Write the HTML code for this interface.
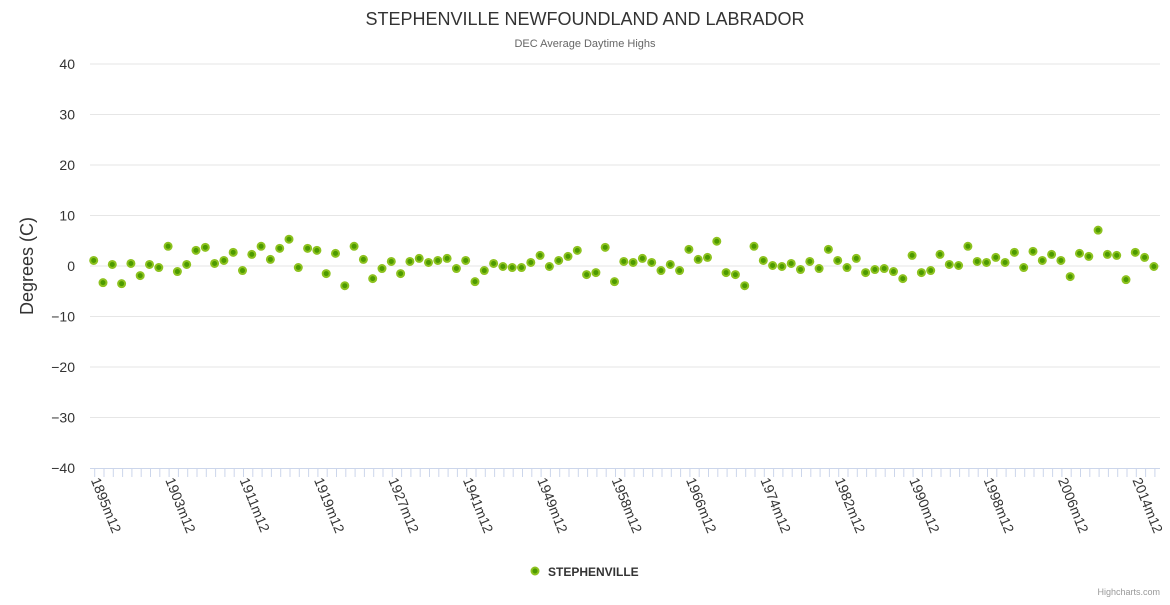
<!DOCTYPE html>
<html><head><meta charset="utf-8"><style>
body{margin:0;background:#fff;width:1170px;height:600px;overflow:hidden;font-family:"Liberation Sans",sans-serif}
</style></head><body>
<svg id="chart" width="1170" height="600" xmlns="http://www.w3.org/2000/svg" style="font-family:'Liberation Sans',sans-serif">
<text x="585" y="25" text-anchor="middle" font-size="18" fill="#333">STEPHENVILLE NEWFOUNDLAND AND LABRADOR</text>
<text x="585" y="47" text-anchor="middle" font-size="11" fill="#666">DEC Average Daytime Highs</text>
<text transform="translate(33,266) rotate(-90)" text-anchor="middle" font-size="18" fill="#333">Degrees (C)</text>
<g id="grid"></g><g id="xaxis"></g><g id="points"></g>
<g>
<circle cx="535" cy="571" r="3.5" fill="#4c9a00" stroke="#8dc21f" stroke-width="2"/>
<text x="548" y="576" font-size="12" font-weight="bold" fill="#333">STEPHENVILLE</text>
</g>
<text x="1160" y="595" text-anchor="end" font-size="9" fill="#999">Highcharts.com</text>
</svg>
<script>
const yTicks=[40,30,20,10,0,-10,-20,-30,-40];
const years=[];
for(let y=1895;y<=1927;y++)years.push(y);
const gapYears=[1928,1929,1930,1931,1938,1939,1940];
for(let y=1941;y<=1952;y++)years.push(y);
const years2=[1954,1955,1956,1957];
const categories=[];
const values=[1.1,-3.3,0.3,-3.5,0.5,-1.9,0.3,-0.3,3.9,-1.1,0.3,3.1,3.7,0.5,1.1,2.7,-0.9,2.3,3.9,1.3,3.5,5.3,-0.3,3.5,3.1,-1.5,2.5,-3.9,3.9,1.3,-2.5,-0.5,0.9,-1.5,0.9,1.5,0.7,1.1,1.5,
-0.5,1.1,-3.1,-0.9,0.5,-0.1,-0.3,-0.3,0.7,2.1,-0.1,1.1,1.9,3.1,-1.7,-1.3,3.7,-3.1,0.9,0.7,1.5,0.7,-0.9,0.3,-0.9,3.3,1.3,1.7,4.9,-1.3,-1.7,-3.9,3.9,1.1,0.1,-0.1,0.5,-0.7,0.9,
-0.5,3.3,1.1,-0.3,1.5,-1.3,-0.7,-0.5,-1.1,-2.5,2.1,-1.3,-0.9,2.3,0.3,0.1,3.9,0.9,0.7,1.7,0.7,2.7,-0.3,2.9,1.1,2.3,1.1,-2.1,2.5,1.9,7.1,2.3,2.1,-2.7,2.7,1.7,-0.1];
(function(){
 const ys=[];for(let y=1895;y<=1927;y++)ys.push(y);ys.push(...gapYears);
 for(let y=1941;y<=1952;y++)ys.push(y);ys.push(...years2);
 for(let y=1958;ys.length<values.length;y++)ys.push(y);
 ys.forEach(y=>categories.push(y+'m12'));
})();
const NS='http://www.w3.org/2000/svg';
const L=90,R=1160,T=64,B=468,x0=93.7,step=9.3;
const yPos=v=>266-(v)*(B-T)/80;
const xPos=i=>x0+i*step;
function mk(tag,attrs,parent){const e=document.createElementNS(NS,tag);for(const k in attrs)e.setAttribute(k,attrs[k]);parent.appendChild(e);return e;}
const grid=document.getElementById('grid');
yTicks.forEach(t=>{
 if(t!==-40){const l=mk('line',{x1:L,x2:R,y1:yPos(t),y2:yPos(t),stroke:'#e6e6e6','stroke-width':1},grid);
 
 }
 const tx=mk('text',{x:75,y:yPos(t)+5,'text-anchor':'end','font-size':14,fill:'#333'},grid);
 tx.textContent=t<0?'\u2212'+Math.abs(t):t;
 
 
});
const xa=document.getElementById('xaxis');
const al=mk('line',{x1:L,x2:R,y1:B+0.5,y2:B+0.5,stroke:'#ccd6eb'},xa);


categories.forEach((c,i)=>{
 const tk=mk('line',{x1:xPos(i)+1,x2:xPos(i)+1,y1:B,y2:B+9,stroke:'#ccd6eb'},xa);
 
 
 if(i%8===0){
  const tx=mk('text',{x:0,y:0,'font-size':14,fill:'#333',transform:`translate(${xPos(i)-3},${B+12}) rotate(68)`},xa);
  tx.textContent=c;
  
  
 }
});
const pg=document.getElementById('points');
values.forEach((v,i)=>{
 const p=mk('circle',{cx:xPos(i),cy:yPos(v),r:3.5,fill:'#4c9a00',stroke:'#8dc21f','stroke-width':2},pg);
 
 
});
</script>
</body></html>
